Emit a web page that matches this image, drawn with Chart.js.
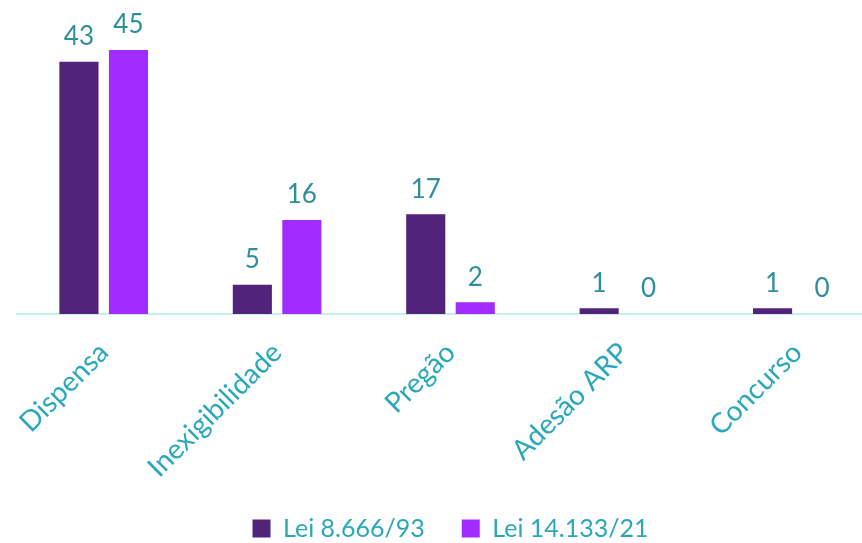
<!DOCTYPE html>
<html>
<head>
<meta charset="utf-8">
<script src="https://cdn.jsdelivr.net/npm/chart.js@4"></script>
<style>
  html, body { margin: 0; padding: 0; background: #fff; overflow: hidden; }
  #wrap { width: 900px; height: 543px; position: relative; }
</style>
</head>
<body>
<div id="wrap"><canvas id="chart"></canvas></div>
<script>
// Data
const categories = ['Dispensa', 'Inexigibilidade', 'Pregão', 'Adesão ARP', 'Concurso'];
const lei8666 = [43, 5, 17, 1, 1];
const lei14133 = [45, 16, 2, 0, 0];
const seriesNames = ['Lei 8.666/93', 'Lei 14.133/21'];

const colors = {
  dark: '#512379',
  bright: '#A22BFF',
  label: '#2E8E9C',
  axisText: '#2AA8BA',
  baseline: '#C8EEF3'
};

const fontFamily = "Lato, 'Open Sans', sans-serif";

// draws the value above each bar
const valueLabels = {
  id: 'valueLabels',
  afterDatasetsDraw(chart) {
    const ctx = chart.ctx;
    ctx.save();
    ctx.font = '26px ' + fontFamily;
    ctx.fillStyle = colors.label;
    ctx.textAlign = 'center';
    ctx.textBaseline = 'bottom';
    chart.data.datasets.forEach((ds, i) => {
      chart.getDatasetMeta(i).data.forEach((bar, j) => {
        ctx.fillText(ds.data[j], bar.x, bar.y - 12);
      });
    });
    ctx.restore();
  }
};

const ctx = document.getElementById('chart').getContext('2d');
new Chart(ctx, {
  type: 'bar',
  data: {
    labels: categories,
    datasets: [
      { label: seriesNames[0], data: lei8666, backgroundColor: colors.dark },
      { label: seriesNames[1], data: lei14133, backgroundColor: colors.bright }
    ]
  },
  options: {
    responsive: true,
    maintainAspectRatio: false,
    animation: false,
    categoryPercentage: 0.571,
    barPercentage: 0.79,
    layout: { padding: { top: 0, left: 17, right: 16, bottom: -8 } },
    plugins: {
      legend: {
        position: 'bottom',
        labels: {
          color: colors.axisText,
          font: { family: fontFamily, size: 25 },
          boxWidth: 18,
          boxHeight: 18,
          padding: 37
        }
      },
      tooltip: { enabled: false }
    },
    scales: {
      x: {
        grid: { display: false, drawTicks: false },
        border: { color: colors.baseline, width: 2 },
        ticks: {
          color: colors.axisText,
          font: { family: fontFamily, size: 28 },
          maxRotation: 45,
          minRotation: 45,
          autoSkip: false,
          padding: 22
        },
        afterFit(scale) {
          scale.height = 165;
        }
      },
      y: {
        display: false,
        min: 0,
        max: 53.5
      }
    }
  },
  plugins: [valueLabels]
});
</script>
</body>
</html>
